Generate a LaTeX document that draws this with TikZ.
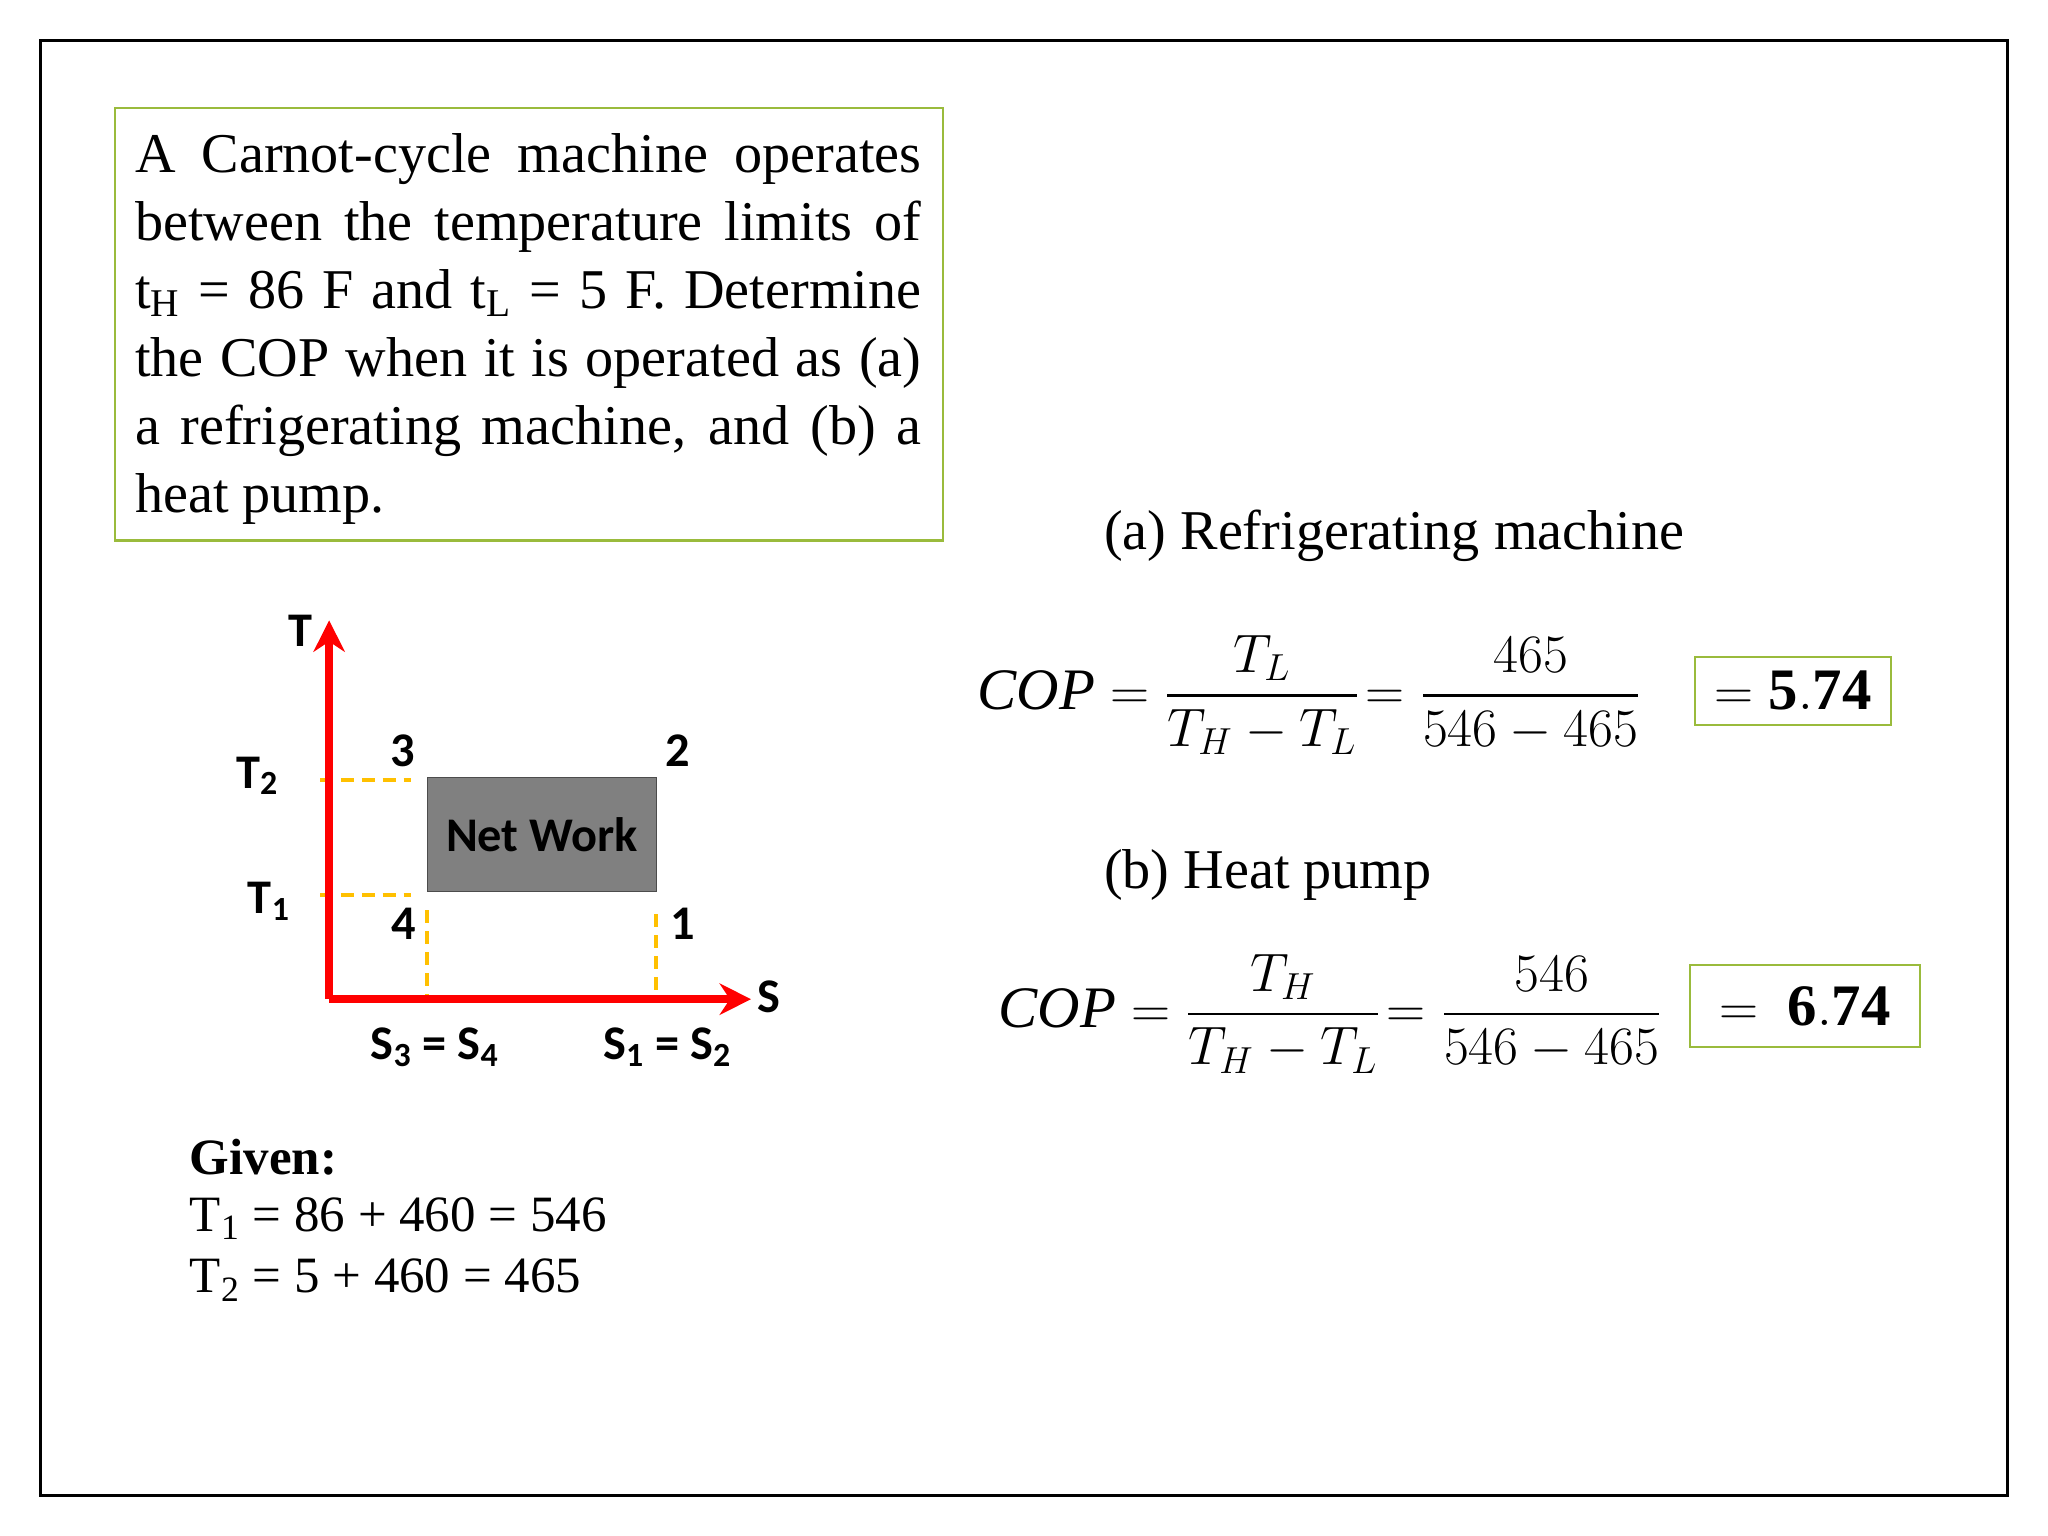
\documentclass[tikz,border=0pt]{standalone}
\usepackage{fontspec}
\usepackage{amsmath}
\setmainfont{Liberation Serif}
\newfontfamily\lab{Carlito}
\definecolor{grn}{RGB}{154,187,60}
\definecolor{org}{RGB}{255,192,0}
\definecolor{gry}{RGB}{128,128,128}
\tikzset{lbl/.style={font=\lab\bfseries\fontsize{18.5}{22}\selectfont},
 dsh/.style={org,line width=1.5pt,dash pattern=on 5pt off 3pt},
 ax/.style={red,line width=3pt,-{Stealth[length=12pt,width=12pt]}},
 eq/.style={font=\fontsize{22.5}{27}\selectfont},
 bx/.style={draw=grn,line width=0.8pt}}
\usetikzlibrary{arrows.meta}
\begin{document}
\begin{tikzpicture}[x=0.5pt,y=-0.5pt]
\useasboundingbox (0,0) rectangle (1568,1176);
\draw[line width=1pt] (31,31) rectangle (1537,1145);
\node[bx,anchor=north west,minimum width=317pt,minimum height=165.5pt,inner sep=0pt] (box) at (87,82) {};
\node[anchor=north west,text width=301pt,align=justify,font=\fontsize{21.5}{26}\selectfont,inner sep=0pt] (prob) at (103,102)
{A Carnot-cycle machine operates between the temperature limits of t\textsubscript{H} = 86 F and t\textsubscript{L} = 5 F. Determine the COP when it is operated as (a) a refrigerating machine, and (b) a heat pump.};
% graph
\coordinate (o) at (252,765);
\coordinate (ty) at (252,475);
\coordinate (sx) at (575,765);
\draw[dsh] (245,597) -- (315,597);
\draw[dsh] (245,685) -- (315,685);
\draw[dsh] (327,697) -- (327,765);
\draw[dsh] (502,700) -- (502,765);
\draw[ax] (o) -- (ty);
\draw[ax] (o) -- (sx);
\node[draw=black!70,fill=gry,minimum width=87.5pt,minimum height=43.5pt,inner sep=0pt,lbl,anchor=north west] (nw) at (327,595) {Net Work};
\node[lbl] (T) at (230,483) {T};
\node[lbl] (T2) at (197,594) {T\textsubscript{2}};
\node[lbl] (T1) at (206,690) {T\textsubscript{1}};
\node[lbl] (p3) at (308,575) {3};
\node[lbl] (p2) at (519,575) {2};
\node[lbl] (p4) at (309,707) {4};
\node[lbl] (p1) at (523,707) {1};
\node[lbl] (S) at (589,763) {S};
\node[lbl] (s34) at (333,802) {S\textsubscript{3} = S\textsubscript{4}};
\node[lbl] (s12) at (511,802) {S\textsubscript{1} = S\textsubscript{2}};
% given
\node[anchor=west,font=\bfseries\fontsize{19.5}{22}\selectfont,inner sep=0pt] (g) at (145,886) {Given:};
\node[anchor=west,font=\fontsize{19.5}{22}\selectfont,inner sep=0pt] (g1) at (145,933) {T\textsubscript{1} = 86 + 460 = 546};
\node[anchor=west,font=\fontsize{19.5}{22}\selectfont,inner sep=0pt] (g2) at (145,980) {T\textsubscript{2} = 5 + 460 = 465};
% (a)
\node[anchor=west,font=\fontsize{21.5}{26}\selectfont,inner sep=0pt] (a) at (845,410) {(a) Refrigerating machine};
\node[eq,anchor=west,inner sep=0pt] (e1) at (748,532) {$\mathit{COP}=\dfrac{T_L}{T_H-T_L}\!=\dfrac{465}{546-465}$};
\node[bx,eq,minimum width=75pt,minimum height=26pt,anchor=north west,inner sep=0pt] (r1) at (1297,502) {$=\mathbf{5.74}$};
% (b)
\node[anchor=west,font=\fontsize{21.5}{26}\selectfont,inner sep=0pt] (b) at (845,670) {(b) Heat pump};
\node[eq,anchor=west,inner sep=0pt] (e2) at (764,776) {$\mathit{COP}=\dfrac{T_H}{T_H-T_L}\!=\dfrac{546}{546-465}$};
\node[bx,eq,minimum width=88pt,minimum height=31.5pt,anchor=north west,inner sep=0pt] (r2) at (1293,738) {$=\ \mathbf{6.74}$};
\end{tikzpicture}
\end{document}
